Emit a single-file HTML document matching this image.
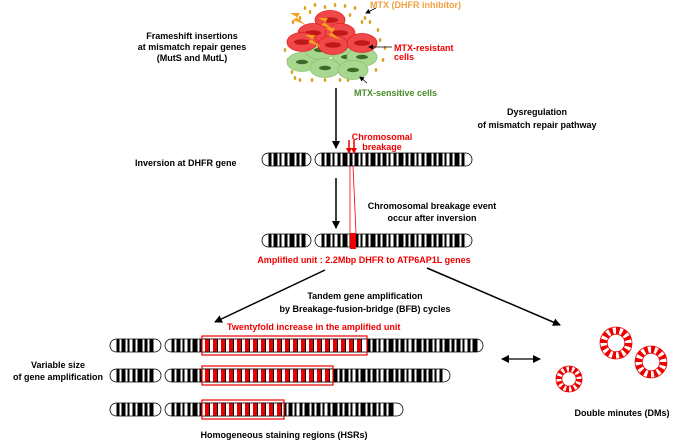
<!DOCTYPE html>
<html><head><meta charset="utf-8"><style>
html,body{margin:0;padding:0;background:#fff;width:673px;height:440px;overflow:hidden}
svg text{font-family:"Liberation Sans",Arial,sans-serif;font-weight:bold;font-size:9px}
</style></head><body>
<svg id="s" width="673" height="440" viewBox="0 0 673 440" xmlns="http://www.w3.org/2000/svg">
<defs>
<marker id="ah" markerWidth="8" markerHeight="8" refX="7" refY="4" orient="auto" markerUnits="userSpaceOnUse"><path d="M0,0 L8,4 L0,8 z" fill="#000"/></marker>
<marker id="ahs" markerWidth="8" markerHeight="8" refX="1" refY="4" orient="auto" markerUnits="userSpaceOnUse"><path d="M8,0 L0,4 L8,8 z" fill="#000"/></marker>
<marker id="as" markerWidth="5" markerHeight="5" refX="4" refY="2.5" orient="auto" markerUnits="userSpaceOnUse"><path d="M0,0 L5,2.5 L0,5 z" fill="#000"/></marker>
<marker id="ar" markerWidth="6" markerHeight="6" refX="5" refY="3" orient="auto" markerUnits="userSpaceOnUse"><path d="M0,0 L6,3 L0,6 z" fill="#e00"/></marker>
</defs>
<g id="cells"></g>
<g id="chroms"></g>
<text x="192" y="39" text-anchor="middle">Frameshift insertions</text>
<text x="192" y="50" text-anchor="middle">at mismatch repair genes</text>
<text x="192" y="61" text-anchor="middle">(MutS and MutL)</text>
<text x="135" y="166">Inversion at DHFR gene</text>
<text x="537" y="115" text-anchor="middle">Dysregulation</text>
<text x="537" y="128" text-anchor="middle">of mismatch repair pathway</text>
<text x="370" y="8" fill="#f0a040" font-size="7">MTX (DHFR inhibitor)</text>
<text x="394" y="51" fill="#e00" font-size="7">MTX-resistant</text>
<text x="394" y="60" fill="#e00" font-size="7">cells</text>
<text x="354" y="96" fill="#4a8a2a" font-size="7">MTX-sensitive cells</text>
<text x="382" y="140" fill="#e00" text-anchor="middle">Chromosomal</text>
<text x="382" y="150" fill="#e00" text-anchor="middle">breakage</text>
<text x="432" y="209" text-anchor="middle">Chromosomal breakage event</text>
<text x="432" y="221" text-anchor="middle">occur after inversion</text>
<text x="364" y="263" fill="#e00" text-anchor="middle">Amplified unit : 2.2Mbp DHFR to ATP6AP1L genes</text>
<text x="365" y="299" text-anchor="middle">Tandem gene amplification</text>
<text x="365" y="312" text-anchor="middle">by  Breakage-fusion-bridge (BFB) cycles</text>
<text x="227" y="330" fill="#e00">Twentyfold increase in the amplified unit</text>
<text x="58" y="368" text-anchor="middle">Variable size</text>
<text x="58" y="380" text-anchor="middle">of gene amplification</text>
<text x="284" y="438" text-anchor="middle">Homogeneous staining regions (HSRs)</text>
<text x="622" y="416" text-anchor="middle">Double minutes (DMs)</text>
<line x1="336" y1="88" x2="336" y2="148" stroke="#000" stroke-width="1.5" marker-end="url(#ah)"/>
<line x1="336" y1="178" x2="336" y2="228" stroke="#000" stroke-width="1.5" marker-end="url(#ah)"/>
<line x1="325" y1="270" x2="215" y2="322" stroke="#000" stroke-width="1.5" marker-end="url(#ah)"/>
<line x1="427" y1="268" x2="560" y2="325" stroke="#000" stroke-width="1.5" marker-end="url(#ah)"/>
<line x1="502" y1="359" x2="540" y2="359" stroke="#000" stroke-width="1.2" marker-end="url(#ah)" marker-start="url(#ahs)"/>
<line x1="349" y1="140" x2="349" y2="153" stroke="#e00" stroke-width="1.5" marker-end="url(#ar)"/>
<line x1="354" y1="140" x2="354" y2="153" stroke="#e00" stroke-width="1.5" marker-end="url(#ar)"/>
<line x1="350" y1="166" x2="350" y2="233" stroke="#e00" stroke-width="0.8"/>
<line x1="353" y1="166" x2="356" y2="233" stroke="#e00" stroke-width="0.8"/>
<line x1="376" y1="8" x2="366" y2="13" stroke="#000" stroke-width="0.8" marker-end="url(#as)"/>
<line x1="392" y1="47" x2="369" y2="47" stroke="#000" stroke-width="0.8" marker-end="url(#as)"/>
<line x1="367" y1="83" x2="360" y2="77" stroke="#000" stroke-width="0.8" marker-end="url(#as)"/>
<g id="dms"></g>
</svg>
<script>
var NS="http://www.w3.org/2000/svg";
function el(p,t,a){var e=document.createElementNS(NS,t);for(var k in a)e.setAttribute(k,a[k]);p.appendChild(e);return e;}
var C=document.getElementById('cells');
var dots=[[315,5],[325,7],[335,5],[345,6],[355,8],[365,18],[370,22],[378,30],[380,40],[385,48],[300,18],[293,22],[285,50],[288,60],[372,62],[376,70],[295,78],[300,80],[312,80],[325,80],[340,80],[348,80],[292,72],[362,22],[310,12],[350,15],[383,60],[305,8]];
dots.forEach(function(d){el(C,'ellipse',{cx:d[0],cy:d[1],rx:1.3,ry:2,fill:'#d9a520'});});
var green=[[302,62],[320,50],[347,57],[362,57],[325,68],[353,70]];
green.forEach(function(g){el(C,'ellipse',{cx:g[0],cy:g[1],rx:15,ry:9.5,fill:'#a8d890',stroke:'#8cc070','stroke-width':0.8});el(C,'ellipse',{cx:g[0],cy:g[1],rx:6,ry:2.2,fill:'#3a6a2a'});});
var red=[[330,20],[313,33],[340,33],[302,42],[333,45],[362,43]];
red.forEach(function(g){el(C,'ellipse',{cx:g[0],cy:g[1],rx:15,ry:9.5,fill:'#f04848',stroke:'#e02020','stroke-width':0.8});el(C,'ellipse',{cx:g[0],cy:g[1],rx:8,ry:2.8,fill:'#c01818'});});
[[290,13],[318,18],[325,28],[305,35]].forEach(function(b){el(C,'path',{d:'M'+b[0]+','+b[1]+' l10,0 l-3,5 l9,7 l-13,-5 l4,-3 z',fill:'#f5a020'});});
var G=document.getElementById('chroms');
function chrom(x1,xc,x2,y,h,pat){
 var r=h/2;
 el(G,'rect',{x:x1,y:y,width:xc-x1-2,height:h,rx:r,ry:r,fill:'#fff',stroke:'#000','stroke-width':0.8});
 el(G,'rect',{x:xc+2,y:y,width:x2-xc-2,height:h,rx:r,ry:r,fill:'#fff',stroke:'#000','stroke-width':0.8});
 var x=x1+r,i=0;
 while(x<x2-r-2){
  if(!(x>xc-r-2&&x<xc+r+2)){
   var w=pat[i%pat.length];
   if(i%2==0) el(G,'rect',{x:x,y:y,width:w,height:h,fill:'#000'});
   x+=w;i++;
  } else {x=xc+r+2;i=0;}
 }
}
var P=[3,2,4,2,2,3,3,2,5,2];
chrom(262,313,472,153,13,P);
chrom(262,313,472,234,13,P);
el(G,'rect',{x:350,y:233,width:6,height:16,fill:'#e00'});
function hsr(x2,y,bx2){
 chrom(110,163,x2,y,13,P);
 el(G,'rect',{x:203,y:y,width:bx2-203,height:13,fill:'#fff'});
 for(var x=205;x<bx2-4;x+=8){el(G,'rect',{x:x,y:y,width:4,height:13,fill:'#e00'});el(G,'rect',{x:x+4,y:y,width:1,height:13,fill:'#000'});}
 el(G,'line',{x1:203,y1:y,x2:bx2,y2:y,stroke:'#000','stroke-width':0.8});
 el(G,'line',{x1:203,y1:y+13,x2:bx2,y2:y+13,stroke:'#000','stroke-width':0.8});
 el(G,'rect',{x:202,y:y-3,width:bx2-202,height:19,fill:'none',stroke:'#e00','stroke-width':1.2});
}
hsr(483,339,367);hsr(450,369,333);hsr(403,403,284);
var D=document.getElementById('dms');
function dm(cx,cy,R){
 el(D,'circle',{cx:cx,cy:cy,r:R,fill:'#fff',stroke:'#e00','stroke-width':0.8});
 var n=12;for(var k=0;k<n;k++){var a0=2*Math.PI*k/n,a1=a0+Math.PI/n*1.1,ri=R*0.55;
  var p='M'+(cx+R*Math.cos(a0))+','+(cy+R*Math.sin(a0))+' A'+R+','+R+' 0 0 1 '+(cx+R*Math.cos(a1))+','+(cy+R*Math.sin(a1))+' L'+(cx+ri*Math.cos(a1))+','+(cy+ri*Math.sin(a1))+' A'+ri+','+ri+' 0 0 0 '+(cx+ri*Math.cos(a0))+','+(cy+ri*Math.sin(a0))+' Z';
  el(D,'path',{d:p,fill:'#e00'});}
 el(D,'circle',{cx:cx,cy:cy,r:R*0.55,fill:'#fff',stroke:'#e00','stroke-width':0.8});
}
dm(616,343,16);dm(651,362,16);dm(569,379,13);
</script>
</body></html>
